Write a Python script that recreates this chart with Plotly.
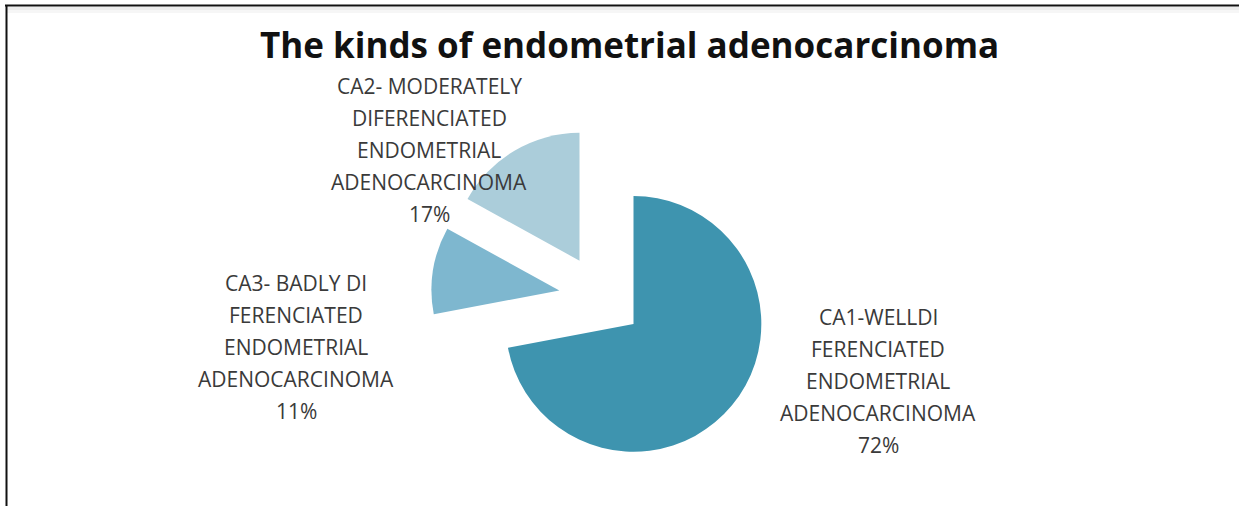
import plotly.graph_objects as go

# Share of each kind of endometrial adenocarcinoma
categories = [
    "CA1-WELLDI<br>FERENCIATED<br>ENDOMETRIAL<br>ADENOCARCINOMA",
    "CA3- BADLY DI<br>FERENCIATED<br>ENDOMETRIAL<br>ADENOCARCINOMA",
    "CA2- MODERATELY<br>DIFERENCIATED<br>ENDOMETRIAL<br>ADENOCARCINOMA",
]
values = [72, 11, 17]
colors = ["#3E94AF", "#7EB7CF", "#ABCDDA"]
title_text = "The kinds of endometrial adenocarcinoma"

W, H = 1239, 506


def px_x(x):
    return x / W


def px_y(y):
    return (H - y) / H


fig = go.Figure()

# Exploded pie, starting at 12 o'clock and running clockwise
cx, cy, box = 601, 297, 340
fig.add_trace(go.Pie(
    labels=[c.replace("<br>", " ") for c in categories],
    values=values,
    sort=False,
    direction="clockwise",
    rotation=0,
    pull=[0.33, 0.33, 0.33],
    marker=dict(colors=colors, line=dict(width=0)),
    textinfo="none",
    showlegend=False,
    domain=dict(x=[px_x(cx - box / 2), px_x(cx + box / 2)],
                y=[px_y(cy + box / 2), px_y(cy - box / 2)]),
))

# Category labels, one annotation per line for the wide line spacing
total = sum(values)
label_pos = [(878, 317), (296, 283), (429, 86)]
line_step = 32
annotations = []
for cat, val, (lx, ly) in zip(categories, values, label_pos):
    lines = cat.split("<br>") + [f"{round(100 * val / total)}%"]
    for i, line in enumerate(lines):
        annotations.append(dict(
            x=px_x(lx), y=px_y(ly + i * line_step), xref="paper", yref="paper",
            text=line, showarrow=False, xanchor="center", yanchor="middle",
            font=dict(family="Open Sans", size=21, color="#3a3a3a"),
        ))

annotations.append(dict(
    x=px_x(629), y=px_y(44), xref="paper", yref="paper",
    text=f"<b>{title_text}</b>", showarrow=False,
    xanchor="center", yanchor="middle",
    font=dict(family="Open Sans", size=35, color="#111111"),
))

# Frame along the top and left edges, with a soft shade under the top rule
shapes = [
    dict(type="rect", xref="paper", yref="paper",
         x0=px_x(6), x1=1, y0=px_y(13), y1=px_y(7),
         fillcolor="#f6f6f6", line=dict(width=0), layer="below"),
    dict(type="rect", xref="paper", yref="paper",
         x0=px_x(6), x1=1, y0=px_y(10), y1=px_y(7),
         fillcolor="#ececec", line=dict(width=0), layer="below"),
    dict(type="line", xref="paper", yref="paper",
         x0=px_x(5), x1=1, y0=px_y(5.5), y1=px_y(5.5),
         line=dict(color="#111111", width=2)),
    dict(type="line", xref="paper", yref="paper",
         x0=px_x(6.5), x1=px_x(6.5), y0=0, y1=px_y(5),
         line=dict(color="#111111", width=2)),
]

fig.update_layout(
    width=W, height=H,
    margin=dict(l=0, r=0, t=0, b=0),
    paper_bgcolor="white", plot_bgcolor="white",
    annotations=annotations, shapes=shapes,
)

fig.write_html("out.html")
